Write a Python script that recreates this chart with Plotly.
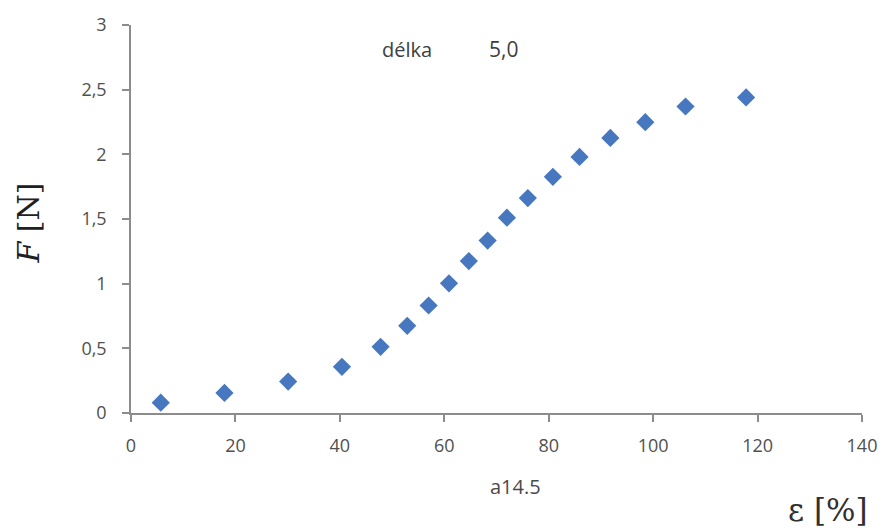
import plotly.graph_objects as go

strain = [5.7, 17.9, 30.1, 40.4, 47.8, 52.9, 57.0, 60.9, 64.7, 68.3, 72.0, 76.0, 80.8, 85.9, 91.8, 98.5, 106.2, 117.8]
force = [0.08, 0.155, 0.243, 0.357, 0.512, 0.674, 0.831, 1.003, 1.175, 1.333, 1.51, 1.662, 1.826, 1.98, 2.127, 2.249, 2.37, 2.44]

x_ticks = [0, 20, 40, 60, 80, 100, 120, 140]
y_ticks = [0, 0.5, 1, 1.5, 2, 2.5, 3]
y_ticktext = ["0", "0,5", "1", "1,5", "2", "2,5", "3"]

font_family = "Open Sans"
tick_color = "#505050"
axis_color = "#8c8c8c"

fig = go.Figure()
fig.add_trace(go.Scatter(
    x=strain, y=force, mode="markers",
    marker=dict(symbol="diamond", size=14, color="#4677BF", line=dict(width=0)),
    showlegend=False,
))

fig.update_layout(
    width=889, height=530,
    margin=dict(l=131, r=26, t=17, b=117),
    paper_bgcolor="white", plot_bgcolor="white",
    font=dict(family=font_family, size=18, color=tick_color),
    xaxis=dict(
        range=[0, 140], tickvals=x_ticks, ticktext=[str(v) for v in x_ticks],
        showgrid=False, zeroline=False,
        showline=True, linecolor=axis_color, linewidth=1.5,
        ticks="outside", ticklen=7, tickcolor=axis_color, tickwidth=1.5,
        ticklabelstandoff=9,
        tickfont=dict(family=font_family, size=18, color=tick_color),
    ),
    yaxis=dict(
        range=[0, 3], tickvals=y_ticks, ticktext=y_ticktext,
        showgrid=False, zeroline=False,
        showline=True, linecolor=axis_color, linewidth=1.5,
        ticks="outside", ticklen=7, tickcolor=axis_color, tickwidth=1.5,
        ticklabelstandoff=12,
        tickfont=dict(family=font_family, size=18, color=tick_color),
    ),
    annotations=[
        dict(text="délka", xref="paper", yref="paper", x=0.377, y=0.937,
             xanchor="center", yanchor="middle", showarrow=False,
             font=dict(family=font_family, size=20, color="#404040")),
        dict(text="5,0", xref="paper", yref="paper", x=0.51, y=0.937,
             xanchor="center", yanchor="middle", showarrow=False,
             font=dict(family=font_family, size=21, color="#404040")),
        dict(text="a14.5", xref="paper", yref="paper", x=0.526, y=-0.19,
             xanchor="center", yanchor="middle", showarrow=False,
             font=dict(family=font_family, size=20, color="#4a4a4a")),
        dict(text="ε [%]", xref="paper", yref="paper", x=0.953, y=-0.25,
             xanchor="center", yanchor="middle", showarrow=False,
             font=dict(family="DejaVu Serif", size=31, color="#303030")),
        dict(text="<i>F</i> [N]", xref="paper", yref="paper", x=-0.14, y=0.49,
             xanchor="center", yanchor="middle", showarrow=False, textangle=-90,
             font=dict(family="DejaVu Serif", size=30, color="#202020")),
    ],
)

fig.write_html("out.html")
